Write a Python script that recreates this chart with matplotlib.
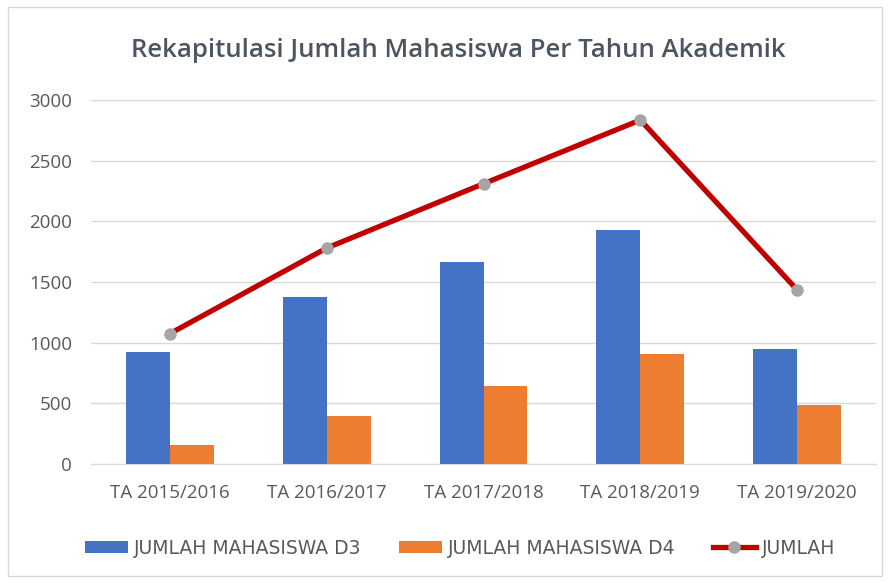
import numpy as np
import matplotlib
matplotlib.use("Agg")
import matplotlib.pyplot as plt
from matplotlib.patches import Rectangle

# data
years = ["TA 2015/2016", "TA 2016/2017", "TA 2017/2018", "TA 2018/2019", "TA 2019/2020"]
d3 = [920, 1380, 1665, 1930, 950]
d4 = [155, 400, 645, 905, 485]
jumlah = [1075, 1780, 2310, 2835, 1435]

grey = "#595959"
fig = plt.figure(figsize=(8.9, 5.83), dpi=100)
ax = fig.add_axes([0.1028, 0.204, 0.881, 0.6245])

x = np.arange(len(years))
w = 0.28
b1 = ax.bar(x - w / 2, d3, w, color="#4472C4", label="JUMLAH MAHASISWA D3", zorder=2)
b2 = ax.bar(x + w / 2, d4, w, color="#ED7D31", label="JUMLAH MAHASISWA D4", zorder=2)
ln, = ax.plot(x, jumlah, color="#C00000", lw=3.8, marker="o", ms=8,
              mfc="#A5A5A5", mec="#A5A5A5", label="JUMLAH", zorder=3)

ax.set_xlim(-0.5, len(years) - 0.5)
ax.set_ylim(0, 3000)
ax.set_yticks(range(0, 3001, 500))
ax.set_xticks(x)
ax.set_xticklabels(years)
ax.grid(axis="y", color="#D9D9D9", lw=1, zorder=0)
for s in ["top", "right", "left"]:
    ax.spines[s].set_visible(False)
ax.spines["bottom"].set_color("#D9D9D9")
ax.tick_params(length=0, colors=grey, labelsize=13.5)
ax.tick_params(axis="x", pad=14)
ax.tick_params(axis="y", pad=14)
for t in ax.get_xticklabels() + ax.get_yticklabels():
    t.set_fontfamily("Open Sans")

fig.text(0.515, 0.914, "Rekapitulasi Jumlah Mahasiswa Per Tahun Akademik",
         ha="center", va="center", fontsize=18.5, color="#4D5560",
         family="Open Sans", fontweight="semibold")

leg = fig.legend([b1, b2, ln], ["JUMLAH MAHASISWA D3", "JUMLAH MAHASISWA D4", "JUMLAH"],
                 loc="center", bbox_to_anchor=(0.517, 0.06), ncol=3, frameon=False,
                 prop={"family": "DejaVu Sans", "size": 13.5},
                 handlelength=2.3, handleheight=0.65, columnspacing=2.0, handletextpad=0.3)
for t in leg.get_texts():
    t.set_color(grey)

fig.patches.append(Rectangle((0.009, 0.012), 0.982, 0.976, transform=fig.transFigure,
                             fill=False, ec="#D9D9D9", lw=1))

fig.savefig("out.png", dpi=100)
